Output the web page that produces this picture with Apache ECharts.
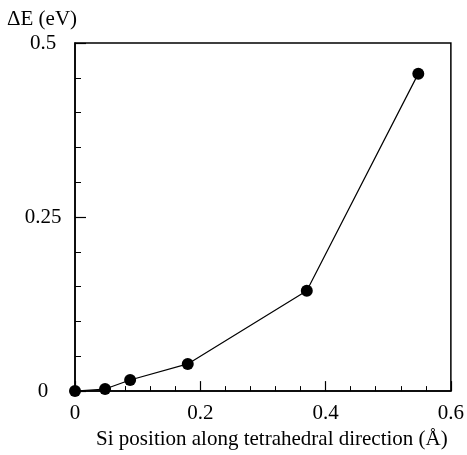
<!DOCTYPE html>
<html>
<head>
<meta charset="utf-8">
<script src="https://cdn.jsdelivr.net/npm/echarts@6/dist/echarts.min.js"></script>
<style>html,body{margin:0;padding:0;background:#fff;}#c{width:467px;height:455px;}</style>
</head>
<body>
<div id="c"></div>
<script>
const xPos = [0, 0.048, 0.088, 0.18, 0.37, 0.548];
const dE = [0, 0.003, 0.016, 0.039, 0.144, 0.456];
const xTickLabels = ['0', '0.2', '0.4', '0.6'];
const yTickLabels = ['0', '0.25', '0.5'];
const titleText = 'ΔE (eV)';
const xTitle = 'Si position along tetrahedral direction (Å)';

const font = '"Liberation Serif", "DejaVu Serif", serif';
const chart = echarts.init(document.getElementById('c'));
chart.setOption({
  backgroundColor: '#fff',
  animation: false,
  title: {
    text: titleText, left: 2, top: 4,
    textStyle: {fontFamily: font, fontSize: 21, fontWeight: 'normal', color: '#000'}
  },
  grid: {left: 75, right: 16, top: 43, bottom: 61, show: true, borderColor: '#000', borderWidth: 1.5, backgroundColor: 'transparent'},
  xAxis: {
    type: 'value', min: 0, max: 0.6, interval: 0.2,
    name: xTitle, nameLocation: 'middle', nameGap: 35,
    nameTextStyle: {fontFamily: font, fontSize: 21, color: '#000', padding: [0, 0, 0, 18]},
    axisLine: {show: true, lineStyle: {color: '#000', width: 1.5}},
    axisTick: {show: true, inside: true, length: 10, lineStyle: {color: '#000', width: 1.2}},
    minorTick: {show: true, splitNumber: 5, length: 5, lineStyle: {color: '#000', width: 1}},
    splitLine: {show: false},
    axisLabel: {
      margin: 12, fontFamily: font, fontSize: 21, color: '#000',
      formatter: v => { const i = Math.round(v / 0.2); return xTickLabels[i] !== undefined ? xTickLabels[i] : ''; }
    }
  },
  yAxis: {
    type: 'value', min: 0, max: 0.5, interval: 0.25,
    axisLine: {show: true, lineStyle: {color: '#000', width: 1.5}},
    axisTick: {show: true, inside: true, length: 11, lineStyle: {color: '#000', width: 1.2}},
    minorTick: {show: true, splitNumber: 5, length: 6, lineStyle: {color: '#000', width: 1}},
    splitLine: {show: false},
    axisLabel: {
      margin: 32, align: 'center', fontFamily: font, fontSize: 21, color: '#000',
      formatter: v => { const i = Math.round(v / 0.25); return yTickLabels[i] !== undefined ? yTickLabels[i] : ''; }
    }
  },
  series: [{
    type: 'line',
    data: xPos.map((x, i) => [x, dE[i]]),
    symbol: 'circle', symbolSize: 12,
    lineStyle: {color: '#000', width: 1.2},
    itemStyle: {color: '#000'},
    clip: false
  }]
});
</script>
</body>
</html>
